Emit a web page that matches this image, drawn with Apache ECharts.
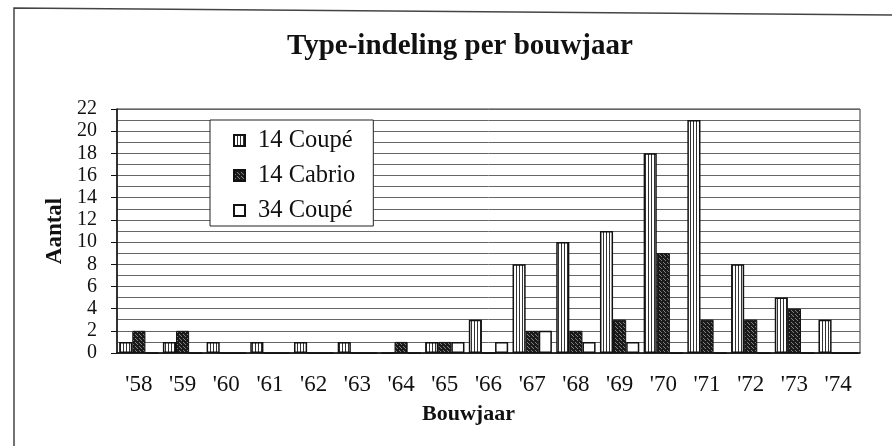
<!DOCTYPE html>
<html>
<head>
<meta charset="utf-8">
<script src="https://cdn.jsdelivr.net/npm/echarts@6/dist/echarts.min.js"></script>
<style>
  html, body { margin: 0; padding: 0; background: #fff; }
  #chart { width: 892px; height: 446px; }
</style>
</head>
<body>
<div id="chart"></div>
<script>
const years = ["'58", "'59", "'60", "'61", "'62", "'63", "'64", "'65", "'66", "'67", "'68", "'69", "'70", "'71", "'72", "'73", "'74"];
const coupe14 = [1, 1, 1, 1, 1, 1, 0, 1, 3, 8, 10, 11, 18, 21, 8, 5, 3];
const cabrio14 = [2, 2, 0, 0, 0, 0, 1, 1, 0, 2, 2, 3, 9, 3, 3, 4, 0];
const coupe34 = [0, 0, 0, 0, 0, 0, 0, 1, 1, 2, 1, 1, 0, 0, 0, 0, 0];
const seriesNames = ['14 Coupé', '14 Cabrio', '34 Coupé'];

const serif = '"Liberation Serif", "DejaVu Serif", serif';

// kleine canvas-patronen voor de arcering van de staven
function makePattern(w, h, draw) {
    const c = document.createElement('canvas');
    c.width = w;
    c.height = h;
    draw(c.getContext('2d'));
    return c;
}

const stripes = makePattern(3, 3, function (ctx) {
    ctx.fillStyle = '#fff';
    ctx.fillRect(0, 0, 3, 3);
    ctx.fillStyle = '#333';
    ctx.fillRect(0, 0, 1, 3);
});

const stipple = makePattern(4, 4, function (ctx) {
    ctx.fillStyle = '#1a1a1a';
    ctx.fillRect(0, 0, 4, 4);
    ctx.fillStyle = '#808080';
    ctx.fillRect(1, 0, 1, 1);
    ctx.fillRect(3, 2, 1, 1);
    ctx.fillRect(0, 3, 1, 1);
});

const chart = echarts.init(document.getElementById('chart'));

const optionData = {
    backgroundColor: '#fff',
    animation: false,
    title: {
        text: 'Type-indeling per bouwjaar',
        left: 287,
        top: 32,
        padding: 0,
        textStyle: {
            fontFamily: serif,
            fontSize: 29,
            fontWeight: 'bold',
            color: '#111'
        }
    },
    legend: {
        data: seriesNames,
        orient: 'vertical',
        left: 210,
        top: 120,
        padding: [8, 18, 3, 23],
        itemWidth: 11,
        itemHeight: 11,
        itemGap: 10,
        backgroundColor: '#fff',
        borderColor: '#222',
        borderWidth: 1,
        icon: 'rect',
        textStyle: {
            fontFamily: serif,
            fontSize: 24.5,
            lineHeight: 24,
            color: '#111',
            padding: [0, 0, 0, 8]
        }
    },
    grid: {
        left: 117,
        right: 32,
        top: 109,
        bottom: 93,
        show: true,
        borderColor: '#333',
        borderWidth: 1,
        backgroundColor: 'transparent'
    },
    xAxis: {
        type: 'category',
        data: years,
        name: 'Bouwjaar',
        nameLocation: 'middle',
        nameGap: 50,
        nameTextStyle: {
            fontFamily: serif,
            fontSize: 22,
            fontWeight: 'bold',
            color: '#111',
            padding: [0, 40, 0, 0]
        },
        axisLine: {
            lineStyle: { color: '#111', width: 1.5 }
        },
        axisTick: {
            length: 6,
            lineStyle: { color: '#111' }
        },
        axisLabel: {
            fontFamily: serif,
            fontSize: 23,
            color: '#111',
            margin: 20
        }
    },
    yAxis: {
        type: 'value',
        min: 0,
        max: 22,
        interval: 2,
        name: 'Aantal',
        nameLocation: 'middle',
        nameGap: 46,
        nameRotate: 90,
        nameTextStyle: {
            fontFamily: serif,
            fontSize: 23,
            fontWeight: 'bold',
            color: '#111'
        },
        axisLine: {
            show: true,
            lineStyle: { color: '#111', width: 1.5 }
        },
        axisTick: {
            show: true,
            length: 6,
            lineStyle: { color: '#111' }
        },
        axisLabel: {
            fontFamily: serif,
            fontSize: 20,
            color: '#111',
            margin: 20
        },
        splitLine: {
            lineStyle: { color: '#666', width: 1 }
        },
        minorTick: {
            show: false,
            splitNumber: 2
        },
        minorSplitLine: {
            show: true,
            lineStyle: { color: '#666', width: 1 }
        }
    },
    series: [
        {
            name: seriesNames[0],
            type: 'bar',
            data: coupe14,
            barGap: '0%',
            barCategoryGap: '10%',
            itemStyle: {
                color: { image: stripes, repeat: 'repeat' },
                borderColor: '#111',
                borderWidth: 1.5
            }
        },
        {
            name: seriesNames[1],
            type: 'bar',
            data: cabrio14,
            barGap: '0%',
            barCategoryGap: '10%',
            itemStyle: {
                color: { image: stipple, repeat: 'repeat' },
                borderColor: '#111',
                borderWidth: 1
            }
        },
        {
            name: seriesNames[2],
            type: 'bar',
            data: coupe34,
            barGap: '0%',
            barCategoryGap: '10%',
            itemStyle: {
                color: '#fff',
                borderColor: '#111',
                borderWidth: 1.5
            }
        }
    ],
    // rand van het gescande kader
    graphic: [
        {
            type: 'polyline',
            silent: true,
            shape: { points: [[14, 446], [14, 8], [892, 15]] },
            style: { fill: null, stroke: '#444', lineWidth: 1.5 }
        }
    ]
};

chart.setOption(optionData);
</script>
</body>
</html>
